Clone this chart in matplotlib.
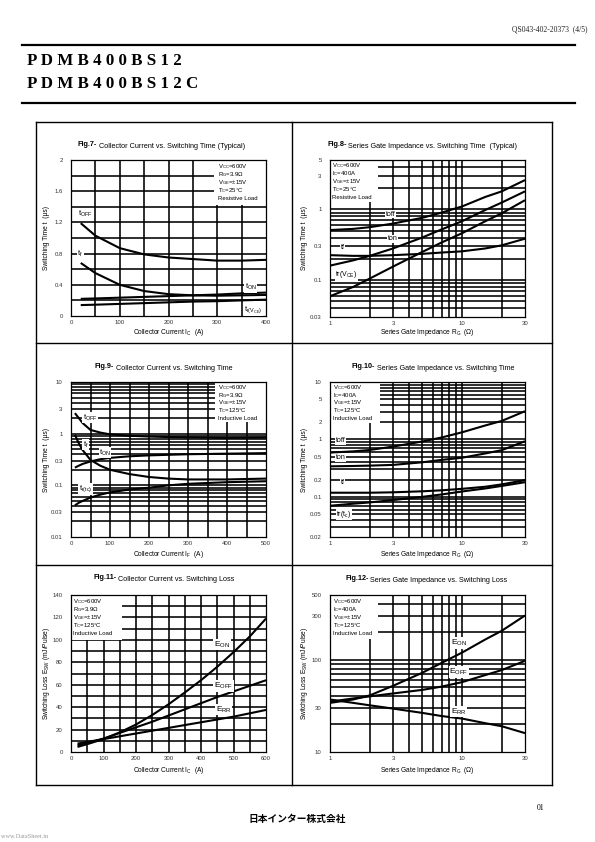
import matplotlib
matplotlib.use('Agg')
import matplotlib.pyplot as plt
from matplotlib.patches import Rectangle
from matplotlib.lines import Line2D

plt.rcParams['font.family'] = ['Liberation Sans', 'DejaVu Sans']
plt.rcParams['mathtext.fontset'] = 'custom'
plt.rcParams['mathtext.rm'] = 'Liberation Sans'

# ---------------- data ----------------
# Fig.7  Collector current vs switching time (resistive, 25C)
ic7 = [20, 50, 100, 150, 200, 250, 300, 350, 400]
toff7 = [1.19, 1.03, 0.87, 0.79, 0.75, 0.73, 0.71, 0.71, 0.72]
tf7 = [0.68, 0.55, 0.40, 0.32, 0.28, 0.265, 0.26, 0.265, 0.27]
ton7 = [0.22, 0.225, 0.235, 0.245, 0.255, 0.265, 0.275, 0.29, 0.30]
tr7 = [0.14, 0.145, 0.155, 0.165, 0.175, 0.185, 0.19, 0.20, 0.21]

# Fig.8  Gate resistance vs switching time (resistive, 25C)
rg8 = [1, 1.5, 2, 3, 5, 7, 10, 15, 20, 30]
toff8 = [0.51, 0.53, 0.56, 0.63, 0.76, 0.90, 1.10, 1.50, 1.80, 2.60]
ton8 = [0.16, 0.19, 0.22, 0.28, 0.40, 0.52, 0.68, 0.98, 1.25, 1.80]
tf8 = [0.225, 0.22, 0.22, 0.225, 0.235, 0.245, 0.255, 0.28, 0.31, 0.385]
tr8 = [0.059, 0.08, 0.105, 0.155, 0.25, 0.34, 0.46, 0.68, 0.88, 1.35]

# Fig.9  Collector current vs switching time (inductive, 125C)
ic9 = [10, 20, 30, 50, 75, 100, 150, 200, 250, 300, 400, 500]
toff9 = [2.5, 2.0, 1.6, 1.18, 1.05, 0.97, 0.91, 0.88, 0.86, 0.85, 0.83, 0.84]
tf9 = [0.95, 0.65, 0.48, 0.31, 0.24, 0.20, 0.165, 0.145, 0.135, 0.13, 0.13, 0.135]
ton9 = [0.22, 0.24, 0.26, 0.29, 0.32, 0.34, 0.365, 0.38, 0.39, 0.40, 0.41, 0.42]
tr9 = [0.041, 0.046, 0.05, 0.058, 0.066, 0.073, 0.083, 0.09, 0.10, 0.107, 0.115, 0.12]

# Fig.10 Gate resistance vs switching time (inductive, 125C)
rg10 = [1, 1.5, 2, 3, 5, 7, 10, 15, 20, 30]
toff10 = [0.59, 0.62, 0.655, 0.75, 0.92, 1.08, 1.33, 1.75, 2.10, 3.10]
ton10 = [0.34, 0.345, 0.35, 0.36, 0.40, 0.44, 0.48, 0.57, 0.65, 0.93]
tf10 = [0.118, 0.118, 0.118, 0.12, 0.125, 0.13, 0.138, 0.15, 0.165, 0.195]
tr10 = [0.07, 0.076, 0.08, 0.088, 0.10, 0.11, 0.124, 0.14, 0.155, 0.18]

# Fig.11 Collector current vs switching loss
ic11 = [20, 50, 100, 150, 200, 250, 300, 350, 400, 450, 500, 550, 600]
eon11 = [4.5, 7, 11.5, 17.5, 24.5, 33, 42.5, 53, 64, 76, 89, 103, 119]
eoff11 = [6, 8, 12, 17, 22, 27, 32.5, 38, 43.5, 49, 54, 59, 64]
err11 = [7.5, 9, 11.5, 14, 16.5, 19, 21.5, 24, 26.5, 29, 31.5, 34.5, 37.5]

# Fig.12 Gate resistance vs switching loss
rg12 = [1, 1.5, 2, 3, 5, 7, 10, 15, 20, 30]
eon12 = [34, 37, 41, 52, 72, 92, 119, 165, 205, 300]
eoff12 = [35, 38, 40, 43, 47, 51, 57, 68, 77, 97]
err12 = [37, 34, 32, 29.5, 26.5, 24.5, 23, 20.5, 19, 16]

cond_res25 = ["V$_\\mathregular{CC}$=600V", "R$_\\mathregular{G}$=3.9\u03a9",
              "V$_\\mathregular{GE}$=\u00b115V", "T$_\\mathregular{C}$=25\u00b0C", "Resistive Load"]
cond_res25_ic = ["V$_\\mathregular{CC}$=600V", "I$_\\mathregular{C}$=400A",
                 "V$_\\mathregular{GE}$=\u00b115V", "T$_\\mathregular{C}$=25\u00b0C", "Resistive Load"]
cond_ind_rg = ["V$_\\mathregular{CC}$=600V", "R$_\\mathregular{G}$=3.9\u03a9",
               "V$_\\mathregular{GE}$=\u00b115V", "T$_\\mathregular{C}$=125\u00b0C", "Inductive Load"]
cond_ind_ic = ["V$_\\mathregular{CC}$=600V", "I$_\\mathregular{C}$=400A",
               "V$_\\mathregular{GE}$=\u00b115V", "T$_\\mathregular{C}$=125\u00b0C", "Inductive Load"]

# ---------------- figure ----------------
W, H = 595, 842
fig = plt.figure(figsize=(W / 100, H / 100), dpi=100)

def fx(x):
    return x / W

def fy(y):
    return 1 - y / H

def hline(x0, x1, y, lw):
    fig.add_artist(Line2D([fx(x0), fx(x1)], [fy(y), fy(y)], color='black', lw=lw))

def vline(x, y0, y1, lw):
    fig.add_artist(Line2D([fx(x), fx(x)], [fy(y0), fy(y1)], color='black', lw=lw))

# header
fig.text(fx(588), fy(29), "QS043-402-20373  (4/5)", fontsize=5.5, family='Liberation Serif',
         ha='right', va='center', color='#222')
hline(22, 575, 45, 1.6)
fig.text(fx(27), fy(61), "P D M B 4 0 0 B S 1 2", fontsize=12.2, family='Liberation Serif',
         fontweight='bold', ha='left', va='center')
fig.text(fx(27), fy(84), "P D M B 4 0 0 B S 1 2 C", fontsize=12.2, family='Liberation Serif',
         fontweight='bold', ha='left', va='center')
hline(22, 575, 103, 1.6)

# outer frame
hline(36, 552, 122, 1.0)
hline(36, 552, 785, 1.0)
vline(36, 122, 785, 1.0)
vline(552, 122, 785, 1.0)
vline(292, 122, 785, 1.0)
hline(36, 552, 343, 1.0)
hline(36, 552, 565, 1.0)

# footer
fig.text(fx(541), fy(808), "01", fontsize=5.5, family='Liberation Serif', ha='center', va='center')
fig.text(fx(297), fy(819), "日本インター株式会社", fontsize=7,
         family=['Noto Sans CJK JP', 'DejaVu Sans'], fontweight='bold', ha='center', va='center')
fig.text(fx(1), fy(836), "www.DataSheet.in", fontsize=4.5, family='Liberation Serif',
         ha='left', va='center', color='#999')

GRID_LW = 1.15
CURVE_LW = 1.5


def make_axes(x0, y0, x1, y1):
    ax = fig.add_axes([fx(x0), fy(y1), (x1 - x0) / W, (y1 - y0) / H])
    return ax


def setup(ax, xscale, yscale, xlim, ylim, xgrid, ygrid, xt, xtl, yt, ytl):
    ax.set_xscale(xscale)
    ax.set_yscale(yscale)
    ax.set_xlim(*xlim)
    ax.set_ylim(*ylim)
    for v in xgrid:
        ax.axvline(v, color='black', lw=GRID_LW, zorder=1)
    for v in ygrid:
        ax.axhline(v, color='black', lw=GRID_LW, zorder=1)
    ax.set_xticks(xt, labels=xtl)
    ax.set_yticks(yt, labels=ytl)
    ax.minorticks_off()
    ax.tick_params(axis='both', length=0, labelsize=4.3, colors='#333')
    ax.tick_params(axis='y', pad=6)
    ax.tick_params(axis='x', pad=3)
    for s in ax.spines.values():
        s.set_linewidth(0.9)


def cond_box(ax, box, x, ys, lines):
    bx0, by0, bx1, by1 = box
    ax.add_patch(Rectangle((fx(bx0), fy(by1)), (bx1 - bx0) / W, (by1 - by0) / H,
                           transform=fig.transFigure, facecolor='white', edgecolor='none',
                           zorder=1.5))
    for yy, t in zip(ys, lines):
        ax.text(fx(x), fy(yy), t, transform=fig.transFigure, fontsize=4.3,
                ha='left', va='center', zorder=3)


def title(ax, x, y, bold, rest):
    t = ax.text(fx(x), fy(y), bold, transform=fig.transFigure, fontsize=5.2,
                fontweight='bold', ha='left', va='baseline')
    ax.annotate(rest, xy=(1, 0), xycoords=t, xytext=(1.5, 0), textcoords='offset points',
                fontsize=5.2, ha='left', va='baseline', annotation_clip=False)


def labels(xl, xly, yl, ylx, cx, cy):
    fig.text(fx(cx), fy(xly), xl, fontsize=4.8, ha='center', va='center')
    fig.text(fx(ylx), fy(cy), yl, fontsize=4.8, ha='center', va='center', rotation=90)


def lab(ax, x, y, s, size=5.5):
    ax.text(x, y, s, fontsize=size, ha='left', va='center', zorder=3,
            bbox=dict(facecolor='white', edgecolor='none', pad=0.4))


def curve(ax, x, y):
    ax.plot(x, y, color='black', lw=CURVE_LW, zorder=2, solid_capstyle='butt')


ylab_t = "Switching Time t  (\u00b5s)"
xlab_rg = "Series Gate Impedance R$_\\mathregular{G}$  (\u03a9)"
log_1_30_grid = [2, 3, 4, 5, 6, 7, 8, 9, 10, 20]

# ---------- Fig.7 ----------
ax1 = make_axes(71, 160, 266, 316)
setup(ax1, 'linear', 'linear', (0, 400), (0, 2),
      [50, 100, 150, 200, 250, 300, 350], [0.2, 0.4, 0.6, 0.8, 1.0, 1.2, 1.4, 1.6, 1.8],
      [0, 100, 200, 300, 400], ['0', '100', '200', '300', '400'],
      [0, 0.4, 0.8, 1.2, 1.6, 2], ['0', '0.4', '0.8', '1.2', '1.6', '2'])
for yv in (toff7, tf7, ton7, tr7):
    curve(ax1, ic7, yv)
cond_box(ax1, (214, 160, 266, 205), 217.7, [167, 174.7, 182.5, 190.5, 198.5], cond_res25)
lab(ax1, 15, 1.31, "t$_\\mathregular{OFF}$")
lab(ax1, 13, 0.8, "t$_\\mathregular{f}$")
lab(ax1, 356, 0.37, "t$_\\mathregular{ON}$")
lab(ax1, 355, 0.075, "t$_\\mathregular{r(V_{CE})}$")
title(ax1, 78, 146, "Fig.7-", "Collector Current vs. Switching Time (Typical)")
labels("Collector Current I$_\\mathregular{C}$  (A)", 332, ylab_t, 47, 168.5, 238)

# ---------- Fig.8 ----------
ax2 = make_axes(330, 160, 525, 317)
setup(ax2, 'log', 'log', (1, 30), (0.03, 5),
      log_1_30_grid,
      [0.04, 0.05, 0.06, 0.07, 0.08, 0.09, 0.1, 0.2, 0.3, 0.4, 0.5, 0.6, 0.7, 0.8, 0.9, 1, 2, 3, 4],
      [1, 3, 10, 30], ['1', '3', '10', '30'],
      [0.03, 0.1, 0.3, 1, 3, 5], ['0.03', '0.1', '0.3', '1', '3', '5'])
for yv in (toff8, ton8, tf8, tr8):
    curve(ax2, rg8, yv)
cond_box(ax2, (330, 160, 378, 202), 331.7, [165.5, 173.4, 181.2, 189.1, 197.2], cond_res25_ic)
lab(ax2, 2.65, 0.86, "toff", 5)
lab(ax2, 2.75, 0.385, "ton", 5)
lab(ax2, 1.2, 0.29, "tf", 5)
lab(ax2, 1.1, 0.12, "tr(V$_\\mathregular{CE}$)", 5)
title(ax2, 327, 146, "Fig.8-", "Series Gate Impedance vs. Switching Time  (Typical)")
labels(xlab_rg, 332, ylab_t, 305, 427.5, 238)

# ---------- Fig.9 ----------
ax3 = make_axes(71, 382, 266, 537)
setup(ax3, 'linear', 'log', (0, 500), (0.01, 10),
      [50, 100, 150, 200, 250, 300, 350, 400, 450],
      [0.02, 0.03, 0.04, 0.05, 0.06, 0.07, 0.08, 0.09, 0.1, 0.2, 0.3, 0.4, 0.5, 0.6, 0.7, 0.8,
       0.9, 1, 2, 3, 4, 5, 6, 7, 8, 9],
      [0, 100, 200, 300, 400, 500], ['0', '100', '200', '300', '400', '500'],
      [0.01, 0.03, 0.1, 0.3, 1, 3, 10], ['0.01', '0.03', '0.1', '0.3', '1', '3', '10'])
for yv in (toff9, tf9, ton9, tr9):
    curve(ax3, ic9, yv)
cond_box(ax3, (215, 382, 266, 422), 218, [387.7, 395.4, 403, 410.5, 418], cond_ind_rg)
lab(ax3, 30, 2.06, "t$_\\mathregular{OFF}$")
lab(ax3, 30, 0.62, "t$_\\mathregular{f}$")
lab(ax3, 72, 0.43, "t$_\\mathregular{ON}$")
lab(ax3, 20, 0.085, "t$_\\mathregular{r(tc)}$")
title(ax3, 95, 368, "Fig.9-", "Collector Current vs. Switching Time")
labels("Collector Current I$_\\mathregular{F}$  (A)", 555, ylab_t, 47, 168.5, 459.5)

# ---------- Fig.10 ----------
ax4 = make_axes(330, 382, 525, 537)
setup(ax4, 'log', 'log', (1, 30), (0.02, 10),
      log_1_30_grid,
      [0.03, 0.04, 0.05, 0.06, 0.07, 0.08, 0.09, 0.1, 0.2, 0.3, 0.4, 0.5, 0.6, 0.7, 0.8, 0.9,
       1, 2, 3, 4, 5, 6, 7, 8, 9],
      [1, 3, 10, 30], ['1', '3', '10', '30'],
      [0.02, 0.05, 0.1, 0.2, 0.5, 1, 2, 5, 10],
      ['0.02', '0.05', '0.1', '0.2', '0.5', '1', '2', '5', '10'])
for yv in (toff10, ton10, tf10, tr10):
    curve(ax4, rg10, yv)
cond_box(ax4, (330, 382, 380, 423), 332.7, [387.7, 395.4, 403, 410.5, 418], cond_ind_ic)
lab(ax4, 1.1, 0.95, "toff", 5)
lab(ax4, 1.1, 0.48, "ton", 5)
lab(ax4, 1.2, 0.18, "tf", 5)
lab(ax4, 1.12, 0.05, "tr(t$_\\mathregular{c}$)", 5)
title(ax4, 352, 368, "Fig.10-", "Series Gate Impedance vs. Switching Time")
labels(xlab_rg, 555, ylab_t, 305, 427.5, 459.5)

# ---------- Fig.11 ----------
ax5 = make_axes(71, 595, 266, 752)
setup(ax5, 'linear', 'linear', (0, 600), (0, 140),
      [50, 100, 150, 200, 250, 300, 350, 400, 450, 500, 550],
      [10, 20, 30, 40, 50, 60, 70, 80, 90, 100, 110, 120, 130],
      [0, 100, 200, 300, 400, 500, 600], ['0', '100', '200', '300', '400', '500', '600'],
      [0, 20, 40, 60, 80, 100, 120, 140], ['0', '20', '40', '60', '80', '100', '120', '140'])
for yv in (eon11, eoff11, err11):
    curve(ax5, ic11, yv)
cond_box(ax5, (71, 595, 122, 640), 72.7, [601.7, 609.6, 617.4, 625.2, 633.2], cond_ind_rg)
lab(ax5, 440, 96, "E$_\\mathregular{ON}$", 6)
lab(ax5, 440, 59, "E$_\\mathregular{OFF}$", 6)
lab(ax5, 445, 38, "E$_\\mathregular{RR}$", 6)
title(ax5, 93, 579, "Fig.11-", "Collector Current vs. Switching Loss")
labels("Collector Current I$_\\mathregular{C}$  (A)", 771, "Switching Loss E$_\\mathregular{SW}$ (mJ/Pulse)",
       47, 168.5, 673.5)

# ---------- Fig.12 ----------
ax6 = make_axes(330, 595, 525, 752)
setup(ax6, 'log', 'log', (1, 30), (10, 500),
      log_1_30_grid,
      [20, 30, 40, 50, 60, 70, 80, 90, 100, 200, 300, 400],
      [1, 3, 10, 30], ['1', '3', '10', '30'],
      [10, 30, 100, 300, 500], ['10', '30', '100', '300', '500'])
for yv in (eon12, eoff12, err12):
    curve(ax6, rg12, yv)
cond_box(ax6, (330, 595, 378, 639), 332.7, [601.7, 609.6, 617.4, 625.2, 633.2], cond_ind_ic)
lab(ax6, 8.2, 152, "E$_\\mathregular{ON}$", 6)
lab(ax6, 8.0, 74, "E$_\\mathregular{OFF}$", 6)
lab(ax6, 8.2, 27.5, "E$_\\mathregular{RR}$", 6)
title(ax6, 345, 580, "Fig.12-", "Series Gate Impedance vs. Switching Loss")
labels("Series Gate Impedance R$_\\mathregular{G}$  (\u03a9)", 771,
       "Switching Loss E$_\\mathregular{SW}$ (mJ/Pulse)", 305, 427.5, 673.5)

fig.savefig('out.png', dpi=100)
